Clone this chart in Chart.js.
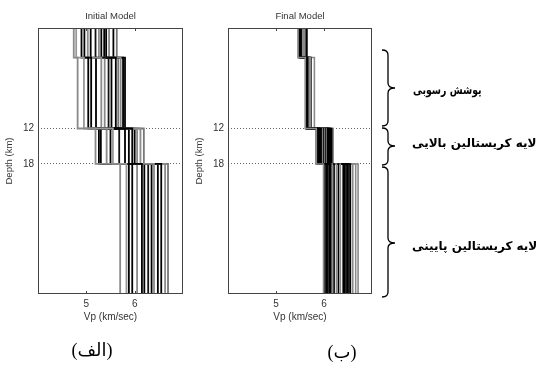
<!DOCTYPE html>
<html><head><meta charset="utf-8">
<script src="https://cdn.jsdelivr.net/npm/chart.js@4.4.0/dist/chart.umd.min.js"></script>
<style>
html,body{margin:0;padding:0;background:#fff;width:537px;height:365px;overflow:hidden;position:relative;}
canvas{position:absolute;top:0;}
#c1{left:0;} #c2{left:190px;}
svg{position:absolute;left:0;top:0;}
.fa{position:absolute;font-family:"DejaVu Sans",sans-serif;font-weight:bold;font-size:12px;white-space:nowrap;color:#000;line-height:1;transform-origin:left center;}
.cap{position:absolute;font-family:"Liberation Serif","DejaVu Sans",serif;font-size:18px;white-space:nowrap;color:#000;line-height:1;transform:translate(-50%,-50%);}
</style></head>
<body>
<canvas id="c1" width="190" height="327"></canvas>
<canvas id="c2" width="190" height="327"></canvas>
<svg width="537" height="365" viewBox="0 0 537 365">
  <g fill="none" stroke="#000" stroke-width="1.3" id="braces"></g>
</svg>
<div class="fa" style="left:413px;top:90px;transform:translateY(-50%) scaleX(0.78)">پوشش رسوبی</div>
<div class="fa" style="left:412px;top:143px;transform:translateY(-50%)">لایه کریستالین بالایی</div>
<div class="fa" style="left:412px;top:246px;transform:translateY(-50%)">لایه کریستالین پایینی</div>
<div class="cap" style="left:92px;top:350px">(الف)</div>
<div class="cap" style="left:342px;top:352px">(ب)</div>
<script>
// ---- data ----
const depthEdges = [-5, 0, 12, 18, 40];
const vpTicks = [5, 6];
const depthTicks = [12, 18];

const initialLayer1 = [4.74, 4.79, 4.90, 4.96, 5.03, 5.09, 5.19, 5.26, 5.31, 5.41, 5.47, 5.56, 5.63, 5.37];
const initialLayer2 = [4.82, 4.95, 5.10, 5.04, 5.31, 5.20, 5.46, 5.38, 5.61, 5.52, 5.71, 5.80, 5.66, 5.76];
const initialLayer3 = [5.19, 5.55, 5.30, 5.80, 5.42, 5.95, 5.68, 6.05, 5.26, 5.88, 6.12, 5.50, 6.19, 6.00];
const initialLayer4 = [5.70, 5.83, 6.15, 5.95, 6.40, 5.88, 6.28, 6.05, 6.55, 6.20, 6.63, 6.35, 6.69, 6.48];

const finalLayer1 = [5.46, 5.48, 5.47, 5.50, 5.52, 5.49, 5.55, 5.53, 5.57, 5.51, 5.60, 5.56, 5.58, 5.62, 5.54, 5.64, 5.59, 5.65, 5.61, 5.63];
const finalLayer2 = [5.61, 5.62, 5.64, 5.63, 5.66, 5.65, 5.68, 5.67, 5.70, 5.69, 5.72, 5.71, 5.73, 5.62, 5.65, 5.67, 5.70, 5.80, 5.64, 5.68];
const finalLayer3 = [5.84, 5.86, 5.88, 5.90, 5.92, 5.94, 5.96, 5.98, 6.00, 6.02, 6.04, 6.06, 6.08, 6.10, 6.12, 6.14, 6.16, 6.18, 6.19, 5.83];
const finalLayer4 = [5.99, 6.02, 6.05, 6.08, 6.11, 6.14, 6.17, 6.21, 6.26, 6.30, 6.34, 6.40, 6.43, 6.46, 6.49, 6.52, 6.55, 6.60, 6.66, 6.71];

// ---- styles ----
const initialColors = ['#8a8a8a','#999','#000','#000','#8a8a8a','#000','#111','#8a8a8a','#000','#000','#8a8a8a','#000','#777','#000'];
const finalColors = ['#8a8a8a','#000','#000','#000','#000','#000','#8a8a8a','#000','#8a8a8a','#000','#8a8a8a','#000','#000','#000','#000','#000','#000','#8a8a8a','#8a8a8a','#8a8a8a'];

Chart.defaults.font.family = '"Liberation Sans", Arial, sans-serif';
Chart.defaults.font.size = 10;
Chart.defaults.color = '#333';

const framePlugin = {
  id: 'frame',
  afterDraw(chart, args, opts) {
    const {ctx, chartArea: a, scales: {x, y}} = chart;
    ctx.save();
    ctx.strokeStyle = '#444';
    ctx.lineWidth = 1;
    ctx.strokeRect(Math.round(a.left) + 0.5, Math.round(a.top) + 0.5, Math.round(a.width) - 1, Math.round(a.height) - 1);
    ctx.beginPath();
    vpTicks.forEach(v => {
      const px = Math.round(x.getPixelForValue(v)) + 0.5;
      ctx.moveTo(px, a.top); ctx.lineTo(px, a.top + 3);
      ctx.moveTo(px, a.bottom); ctx.lineTo(px, a.bottom - 3);
    });
    ctx.stroke();
    ctx.fillStyle = '#333';
    ctx.font = '9.5px "Liberation Sans", Arial, sans-serif';
    ctx.textAlign = 'center';
    ctx.textBaseline = 'middle';
    ctx.fillText(opts.text, (a.left + a.right) / 2, 16);
    ctx.restore();
  }
};

function makeChart(id, title, l1, l2, l3, l4, colors, lw, padRight) {
  const datasets = l1.map((v, i) => ({
    data: [
      {x: l1[i], y: depthEdges[0]}, {x: l1[i], y: depthEdges[1]},
      {x: l2[i], y: depthEdges[1]}, {x: l2[i], y: depthEdges[2]},
      {x: l3[i], y: depthEdges[2]}, {x: l3[i], y: depthEdges[3]},
      {x: l4[i], y: depthEdges[3]}, {x: l4[i], y: depthEdges[4]}
    ],
    showLine: true,
    borderColor: colors[i],
    borderWidth: lw,
    pointRadius: 0,
    fill: false,
    tension: 0
  }));
  return new Chart(document.getElementById(id), {
    type: 'scatter',
    data: {datasets},
    plugins: [framePlugin],
    options: {
      responsive: false,
      maintainAspectRatio: false,
      devicePixelRatio: 1,
      animation: false,
      layout: {padding: {top: 28, right: padRight, bottom: 0, left: 0}},
      plugins: {legend: {display: false}, tooltip: {enabled: false}, frame: {text: title}},
      scales: {
        x: {
          type: 'linear', min: 4, max: 7,
          afterBuildTicks: s => { s.ticks = vpTicks.map(v => ({value: v})); },
          afterFit: s => { s.height = 33; },
          ticks: {autoSkip: false, maxRotation: 0, padding: 4, color: '#333', font: {size: 10}, callback: v => String(v)},
          grid: {display: false, drawTicks: false},
          border: {display: false},
          title: {display: true, text: 'Vp (km/sec)', color: '#333', font: {size: 10}, padding: {top: 0, bottom: 4}}
        },
        y: {
          type: 'linear', min: depthEdges[0], max: depthEdges[depthEdges.length - 1], reverse: true,
          afterBuildTicks: s => { s.ticks = depthTicks.map(v => ({value: v})); },
          afterFit: s => { s.width = 38; },
          ticks: {autoSkip: false, padding: 4, color: '#333', font: {size: 10}, callback: v => String(v)},
          grid: {display: true, drawTicks: false, color: '#666', lineWidth: 1},
          border: {display: false, dash: [1, 2]},
          title: {display: true, text: 'Depth (km)', color: '#333', font: {size: 9.5}, padding: {top: 4, bottom: 0}}
        }
      }
    }
  });
}

makeChart('c1', 'Initial Model', initialLayer1, initialLayer2, initialLayer3, initialLayer4, initialColors, 1.8, 7);
makeChart('c2', 'Final Model', finalLayer1, finalLayer2, finalLayer3, finalLayer4, finalColors, 1.6, 8);

// braces
const braceSpans = [[50, 126, 88], [128, 165, 146], [167, 297, 243]];
const g = document.getElementById('braces');
braceSpans.forEach(([y1, y2, ym]) => {
  const x = 388;
  const p = document.createElementNS('http://www.w3.org/2000/svg', 'path');
  p.setAttribute('d', `M${x-6},${y1} Q${x},${y1} ${x},${y1+5} L${x},${ym-5} Q${x},${ym} ${x+7},${ym} Q${x},${ym} ${x},${ym+5} L${x},${y2-5} Q${x},${y2} ${x-6},${y2}`);
  g.appendChild(p);
});
</script>
</body></html>
